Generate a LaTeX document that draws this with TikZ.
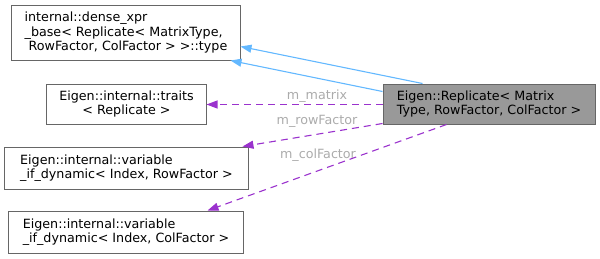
\documentclass[tikz,border=0pt]{standalone}
\usepackage{fontspec}
\setmainfont{DejaVu Sans}
\usetikzlibrary{arrows.meta}

\definecolor{edgeblue}{HTML}{63B8FF}
\definecolor{edgepurple}{HTML}{9A32CD}
\definecolor{boxgray}{HTML}{666666}
\definecolor{labelgray}{HTML}{ABABAB}

\begin{document}
\begin{tikzpicture}[x=1bp,y=-1bp]
        \tikzstyle{every node}=[font=\fontsize{12.7bp}{14.5bp}\selectfont]
        \tikzstyle{cls}=[draw=boxgray,fill=white,line width=1bp,align=left,inner sep=0pt]
        \tikzstyle{self}=[cls,fill=black!40]
        \tikzstyle{inherit}=[draw=edgeblue,line width=1.1bp,-{Triangle[length=11bp,width=8bp]}]
        \tikzstyle{member}=[draw=edgepurple,line width=1.1bp,dash pattern=on 7bp off 5bp,-{Triangle[length=11bp,width=8bp]}]
        \tikzstyle{elabel}=[text=labelgray,inner sep=0pt]

        \useasboundingbox (0,0) rectangle (600,258);

        % class boxes
        \node [cls,minimum width=228bp,minimum height=55bp] (base) at (126,32.5)
            {internal::dense\_xpr\\\_base< Replicate< MatrixType,\\\hspace*{4bp}RowFactor, ColFactor > >::type};
        \node [cls,align=center,minimum width=159bp,minimum height=40bp] (traits) at (126.5,104)
            {Eigen::internal::traits\\< Replicate >};
        \node [cls,minimum width=243bp,minimum height=42bp] (rowvar) at (126.5,168)
            {Eigen::internal::variable\\\_if\_dynamic< Index, RowFactor >};
        \node [cls,minimum width=234bp,minimum height=42bp] (colvar) at (126,232)
            {Eigen::internal::variable\\\_if\_dynamic< Index, ColFactor >};
        \node [self,minimum width=212bp,minimum height=40bp] (rep) at (489,104)
            {Eigen::Replicate< Matrix\\Type, RowFactor, ColFactor >};

        % base class edges
        \draw [inherit] ([xshift=40bp]rep.north west) -- ([yshift=14bp]base.south east);
        \draw [inherit] ([yshift=-8bp]rep.north west) -- ([xshift=-10bp]base.south east);

        % member edges
        \draw [member] ([yshift=-0.5bp]rep.west) -- ([yshift=-0.5bp]traits.east);
        \draw [member] ([yshift=1bp]rep.south west) -- ([xshift=-6bp]rowvar.north east);
        \draw [member] ([xshift=64bp]rep.south west) -- ([xshift=-36bp]colvar.north east);

        \node [elabel] (lmatrix) at (317,96) {m\_matrix};
        \node [elabel] (lrow) at (317,121) {m\_rowFactor};
        \node [elabel] (lcol) at (318,155) {m\_colFactor};
\end{tikzpicture}
\end{document}
